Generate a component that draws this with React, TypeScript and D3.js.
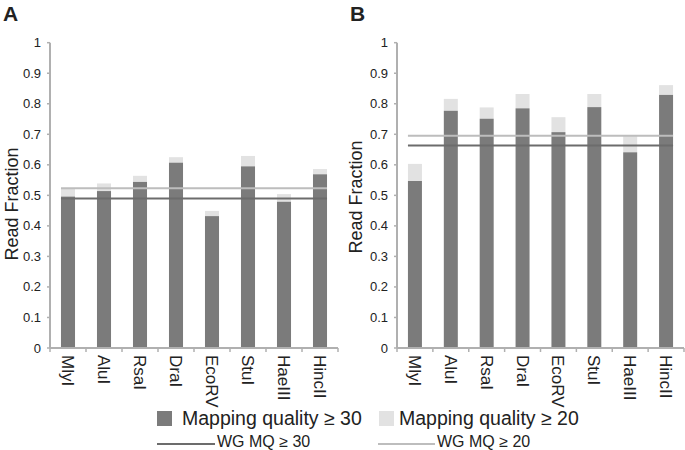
import * as d3 from 'd3';

const enzymes = ['MlyI', 'AluI', 'RsaI', 'DraI', 'EcoRV', 'StuI', 'HaeIII', 'HincII'];

// panel A
const mq30A = [0.496, 0.514, 0.544, 0.607, 0.432, 0.595, 0.479, 0.569];
const mq20A = [0.523, 0.539, 0.564, 0.625, 0.449, 0.629, 0.504, 0.586];
const wgA = { mq30: 0.49, mq20: 0.523 };

// panel B
const mq30B = [0.547, 0.777, 0.751, 0.785, 0.707, 0.789, 0.641, 0.829];
const mq20B = [0.603, 0.816, 0.788, 0.832, 0.756, 0.832, 0.695, 0.861];
const wgB = { mq30: 0.663, mq20: 0.695 };

const yTicks = [0, 0.1, 0.2, 0.3, 0.4, 0.5, 0.6, 0.7, 0.8, 0.9, 1];

const DARK = '#7b7b7b';
const LIGHT = '#e2e2e2';
const LINE_DARK = '#6c6c6c';
const LINE_LIGHT = '#bdbdbd';
const AXIS = '#b0b0b0';
const TEXT = '#222';
const FONT = '"Liberation Sans", Arial, Helvetica, sans-serif';

const top = 42.7;
const bottom = 348;

interface PanelProps {
  letter: string;
  x0: number;
  x1: number;
  labelX: number;
  labelY: number;
  mq30: number[];
  mq20: number[];
  wg: { mq30: number; mq20: number };
}

const Panel = ({ letter, x0, x1, labelX, labelY, mq30, mq20, wg }: PanelProps) => {
  const y = d3.scaleLinear().domain([0, 1]).range([bottom, top]);
  const x = d3.scaleBand<string>().domain(enzymes).range([x0, x1]).paddingInner(0.61).paddingOuter(0.305);
  const step = x.step();
  const lineStart = x(enzymes[0])!;
  const lineEnd = x(enzymes[enzymes.length - 1])! + x.bandwidth();

  return (
    <g>
      <text x={x0 - 47} y={21} fontSize={21} fontWeight="bold" fill={TEXT} fontFamily={FONT}>{letter}</text>
      <text
        transform={`translate(${labelX},${labelY}) rotate(-90)`}
        textAnchor="middle"
        fontSize={18}
        fill={TEXT}
        fontFamily={FONT}
      >Read Fraction</text>

      {/* bars */}
      {enzymes.map((e, i) => (
        <g key={e}>
          <rect x={x(e)} y={y(mq20[i])} width={x.bandwidth()} height={y(mq30[i]) - y(mq20[i])} fill={LIGHT} />
          <rect x={x(e)} y={y(mq30[i])} width={x.bandwidth()} height={y(0) - y(mq30[i])} fill={DARK} />
        </g>
      ))}

      {/* whole genome lines */}
      <line x1={lineStart} x2={lineEnd} y1={y(wg.mq20)} y2={y(wg.mq20)} stroke={LINE_LIGHT} strokeWidth={2} />
      <line x1={lineStart} x2={lineEnd} y1={y(wg.mq30)} y2={y(wg.mq30)} stroke={LINE_DARK} strokeWidth={2} />

      {/* y axis */}
      <line x1={x0} x2={x0} y1={y(1)} y2={y(0)} stroke={AXIS} strokeWidth={2} />
      {yTicks.map(t => (
        <g key={t}>
          <line x1={x0 - 3} x2={x0} y1={y(t)} y2={y(t)} stroke={AXIS} strokeWidth={1.5} />
          <text x={x0 - 9} y={y(t)} dy="0.35em" textAnchor="end" fontSize={13} fill={TEXT} fontFamily={FONT}>{t}</text>
        </g>
      ))}

      {/* x axis */}
      <line x1={x0} x2={x1} y1={y(0)} y2={y(0)} stroke={AXIS} strokeWidth={2} />
      {d3.range(enzymes.length + 1).map(i => (
        <line key={i} x1={x0 + i * step} x2={x0 + i * step} y1={y(0)} y2={y(0) + 4} stroke={AXIS} strokeWidth={1.5} />
      ))}
      {enzymes.map(e => (
        <text
          key={e}
          transform={`translate(${x(e)! + x.bandwidth() / 2},${y(0) + 7}) rotate(90)`}
          dy="0.35em"
          fontSize={17}
          fill={TEXT}
          fontFamily={FONT}
        >{e}</text>
      ))}
    </g>
  );
};

export default function App() {
  return (
    <svg width={685} height={450} style={{ position: 'absolute', left: 0, top: 0, background: '#fff' }}>
      <rect width={685} height={450} fill="#fff" />
      <Panel letter="A" x0={50} x1={338} labelX={17.5} labelY={204} mq30={mq30A} mq20={mq20A} wg={wgA} />
      <Panel letter="B" x0={397} x1={684} labelX={362} labelY={197} mq30={mq30B} mq20={mq20B} wg={wgB} />

      {/* legend */}
      <rect x={157} y={411} width={15} height={15} fill={DARK} />
      <text x={182} y={425} fontSize={19.5} fill={TEXT} fontFamily={FONT}>Mapping quality ≥ 30</text>
      <rect x={379} y={411} width={15} height={15} fill={LIGHT} />
      <text x={399} y={425} fontSize={19.5} fill={TEXT} fontFamily={FONT}>Mapping quality ≥ 20</text>
      <line x1={157} x2={215} y1={444} y2={444} stroke={LINE_DARK} strokeWidth={2} />
      <text x={217} y={447} fontSize={16} fill={TEXT} fontFamily={FONT}>WG MQ ≥ 30</text>
      <line x1={378} x2={435} y1={444} y2={444} stroke={LINE_LIGHT} strokeWidth={2} />
      <text x={437} y={447} fontSize={16} fill={TEXT} fontFamily={FONT}>WG MQ ≥ 20</text>
    </svg>
  );
}
